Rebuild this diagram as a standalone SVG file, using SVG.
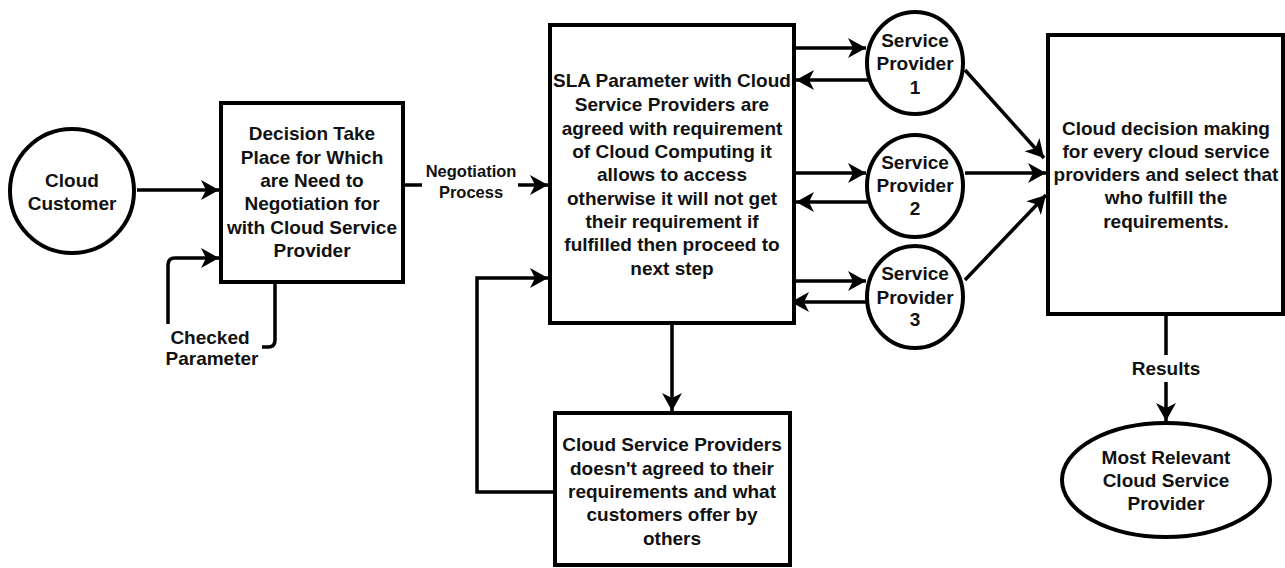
<svg xmlns="http://www.w3.org/2000/svg" width="1285" height="568" viewBox="0 0 1285 568">
  <defs>
    <marker id="arrow" markerUnits="userSpaceOnUse" viewBox="-19 -11 20 22" refX="0" refY="0" markerWidth="20" markerHeight="22" orient="auto">
      <path d="M-18,-10 L0,0 L-18,10 L-13,0 Z" fill="#000"/>
    </marker>
  </defs>
  <style>
    .shape { fill: #fff; stroke: #000; stroke-width: 4; }
    .edge { fill: none; stroke: #000; stroke-width: 3.5; marker-end: url(#arrow); }
    text { font-family: "Liberation Sans", Arial, sans-serif; font-weight: bold; font-size: 19px; fill: #111; text-anchor: middle; }
    .small { font-size: 16.5px; }
    .lbl { fill: #fff; stroke: none; }
  </style>
  <rect width="1285" height="568" fill="#fff"/>

  <!-- connectors -->
  <g id="connectors">
    <path class="edge" d="M137,190 H219"/>
    <path class="edge" d="M275,282 V340 Q275,347 268,347 H175 Q168,347 168,340 V265 Q168,258 175,258 H219"/>
    <path class="edge" d="M403,185 H548"/>
    <path class="edge" d="M794,48 H866"/>
    <path class="edge" d="M868,80 H796"/>
    <path class="edge" d="M794,173 H866"/>
    <path class="edge" d="M868,202 H796"/>
    <path class="edge" d="M794,281 H866"/>
    <path class="edge" d="M866,302 H791"/>
    <path class="edge" d="M965,70 L1044,158"/>
    <path class="edge" d="M965,173 H1046"/>
    <path class="edge" d="M965,280 L1046,195"/>
    <path class="edge" d="M672,323 V411"/>
    <path class="edge" d="M555,492 H477 V278 H548"/>
    <path class="edge" d="M1166,314 V421"/>

    <!-- edge labels -->
    <rect class="lbl" x="160" y="324" width="102" height="46"/>
    <text x="210" y="343.5">Checked</text>
    <text x="212" y="364.5">Parameter</text>

    <rect class="lbl" x="422" y="158" width="96" height="44"/>
    <text class="small" x="471" y="176.5">Negotiation</text>
    <text class="small" x="471" y="197.5">Process</text>

    <rect class="lbl" x="1128" y="355" width="76" height="27"/>
    <text x="1166" y="374.5">Results</text>
  </g>

  <g id="cloud-customer">
    <circle class="shape" cx="72" cy="191" r="62"/>
    <text x="72" y="186.5">Cloud</text>
    <text x="72" y="209.5">Customer</text>
  </g>

  <g id="decision">
    <rect class="shape" x="221" y="103" width="182" height="179"/>
    <text x="312" y="139.5">Decision Take</text>
    <text x="312" y="163.5">Place for Which</text>
    <text x="312" y="186.5">are Need to</text>
    <text x="312" y="209.5">Negotiation for</text>
    <text x="312" y="233.5">with Cloud Service</text>
    <text x="312" y="256.5">Provider</text>
  </g>

  <g id="sla-parameter">
    <rect class="shape" x="550" y="25" width="244" height="298"/>
    <text x="672" y="86.5">SLA Parameter with Cloud</text>
    <text x="672" y="110.5">Service Providers are</text>
    <text x="672" y="134.5">agreed with requirement</text>
    <text x="672" y="157.5">of Cloud Computing it</text>
    <text x="672" y="180.5">allows to access</text>
    <text x="672" y="204.5">otherwise it will not get</text>
    <text x="672" y="227.5">their requirement if</text>
    <text x="672" y="250.5">fulfilled then proceed to</text>
    <text x="672" y="274.5">next step</text>
  </g>

  <g id="service-provider-1">
    <ellipse class="shape" cx="915" cy="63" rx="48" ry="51"/>
    <text x="915" y="46.5">Service</text>
    <text x="915" y="69.5">Provider</text>
    <text x="915" y="93.5">1</text>
  </g>

  <g id="service-provider-2">
    <ellipse class="shape" cx="915" cy="186" rx="48" ry="51"/>
    <text x="915" y="168.5">Service</text>
    <text x="915" y="191.5">Provider</text>
    <text x="915" y="214.5">2</text>
  </g>

  <g id="service-provider-3">
    <ellipse class="shape" cx="915" cy="297" rx="48" ry="51"/>
    <text x="915" y="279.5">Service</text>
    <text x="915" y="303.5">Provider</text>
    <text x="915" y="325.5">3</text>
  </g>

  <g id="cloud-decision">
    <rect class="shape" x="1048" y="35" width="235" height="279"/>
    <text x="1166" y="134.5">Cloud decision making</text>
    <text x="1166" y="157.5">for every cloud service</text>
    <text x="1166" y="180.5">providers and select that</text>
    <text x="1166" y="203.5">who fulfill the</text>
    <text x="1166" y="227.5">requirements.</text>
  </g>

  <g id="not-agreed">
    <rect class="shape" x="555" y="413" width="235" height="152"/>
    <text x="672" y="450.5">Cloud Service Providers</text>
    <text x="672" y="474.5">doesn't agreed to their</text>
    <text x="672" y="497.5">requirements and what</text>
    <text x="672" y="520.5">customers offer by</text>
    <text x="672" y="544.5">others</text>
  </g>

  <g id="most-relevant">
    <ellipse class="shape" cx="1166" cy="480" rx="104" ry="57"/>
    <text x="1166" y="463.5">Most Relevant</text>
    <text x="1166" y="486.5">Cloud Service</text>
    <text x="1166" y="509.5">Provider</text>
  </g>
</svg>
